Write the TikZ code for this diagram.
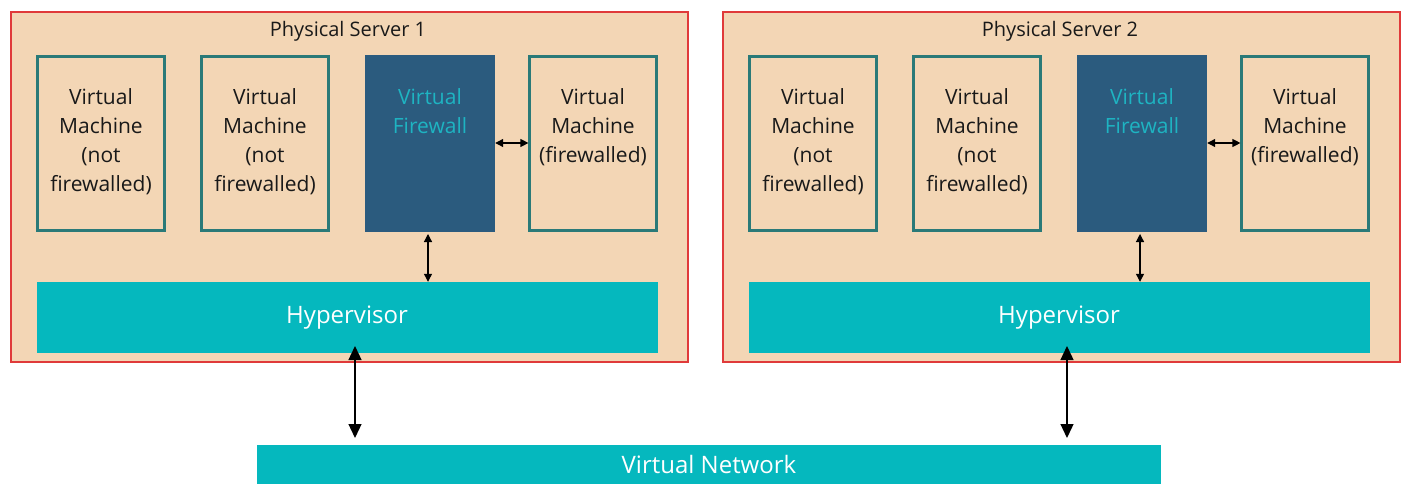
\documentclass[tikz,border=0pt]{standalone}
\usepackage{fontspec}
\setmainfont{Open Sans}
\usetikzlibrary{arrows.meta}
\definecolor{peach}{HTML}{F3D6B5}
\definecolor{srvred}{HTML}{E03A3A}
\definecolor{vmteal}{HTML}{2A7A78}
\definecolor{fwblue}{HTML}{2B5B7E}
\definecolor{fwtext}{HTML}{1EB4C2}
\definecolor{cyanbar}{HTML}{05B8BE}
\tikzset{
  server/.style={draw=srvred, line width=2pt, fill=peach, rectangle, inner sep=0pt, minimum width=677pt, minimum height=350pt},
  vmbox/.style={draw=vmteal, line width=2.2pt, fill=peach, rectangle, inner sep=0pt, minimum width=127pt, minimum height=174pt},
  fwbox/.style={fill=fwblue, rectangle, inner sep=0pt, minimum width=130pt, minimum height=177pt},
  bar/.style={fill=cyanbar, rectangle, inner sep=0pt},
  vmtext/.style={align=center, font=\fontsize{21}{29}\selectfont, text=black!90, anchor=north, inner sep=0pt},
  fwlabel/.style={align=center, font=\fontsize{21}{29}\selectfont, text=fwtext, anchor=north, inner sep=0pt},
  title/.style={font=\fontsize{20}{24}\selectfont, text=black!90, inner sep=0pt},
  bartext/.style={font=\fontsize{24}{28}\selectfont, text=white, inner sep=0pt},
  bigarrow/.style={{Triangle[width=13pt,length=14pt]}-{Triangle[width=13pt,length=14pt]}, line width=1.3pt, black},
  smallarrow/.style={{Triangle[width=8pt,length=8pt]}-{Triangle[width=8pt,length=8pt]}, line width=1.2pt, black}
}
\begin{document}
\begin{tikzpicture}[x=1pt,y=-1pt]
\useasboundingbox (0,0) rectangle (1405,484);
% servers
\node[server] (s1) at (349.5,187) {};
\node[server] (s2) at (1061.5,187) {};
\node[title] (t1) at (348,31) {Physical Server 1};
\node[title] (t2) at (1060,31) {Physical Server 2};
% server 1 boxes
\node[vmbox] (a1) at (101,143.5) {};
\node[vmbox] (a2) at (265,143.5) {};
\node[fwbox] (f1) at (430,143.5) {};
\node[vmbox] (a3) at (593,143.5) {};
\node[vmtext] (a1t) at (101,88) {Virtual\\Machine\\(not\\firewalled)};
\node[vmtext] (a2t) at (265,88) {Virtual\\Machine\\(not\\firewalled)};
\node[fwlabel] (f1t) at (430,88) {Virtual\\Firewall};
\node[vmtext] (a3t) at (593,88) {Virtual\\Machine\\(firewalled)};
\node[bar, minimum width=621pt, minimum height=71pt] (h1) at (347.5,317.5) {};
\node[bartext] (h1t) at (347,318) {Hypervisor};
% server 2 boxes
\node[vmbox] (b1) at (813,143.5) {};
\node[vmbox] (b2) at (977,143.5) {};
\node[fwbox] (f2) at (1142,143.5) {};
\node[vmbox] (b3) at (1305,143.5) {};
\node[vmtext] (b1t) at (813,88) {Virtual\\Machine\\(not\\firewalled)};
\node[vmtext] (b2t) at (977,88) {Virtual\\Machine\\(not\\firewalled)};
\node[fwlabel] (f2t) at (1142,88) {Virtual\\Firewall};
\node[vmtext] (b3t) at (1305,88) {Virtual\\Machine\\(firewalled)};
\node[bar, minimum width=621pt, minimum height=71pt] (h2) at (1059.5,317.5) {};
\node[bartext] (h2t) at (1059,318) {Hypervisor};
% virtual network
\node[bar, minimum width=904pt, minimum height=40pt] (vn) at (709,464.5) {};
\node[bartext] (vnt) at (709,464) {Virtual Network};
% arrows
\draw[smallarrow] (f1.east |- 0,143) -- (a3.west |- 0,143);
\draw[smallarrow] (f2.east |- 0,143) -- (b3.west |- 0,143);
\draw[smallarrow] (428,234) -- (h1.north -| 428,0);
\draw[smallarrow] (1140,234) -- (h2.north -| 1140,0);
\coordinate (n1) at (355,438);
\coordinate (n2) at (1067,438);
\draw[bigarrow] (355,346) -- (n1);
\draw[bigarrow] (1067,346) -- (n2);
\end{tikzpicture}
\end{document}
